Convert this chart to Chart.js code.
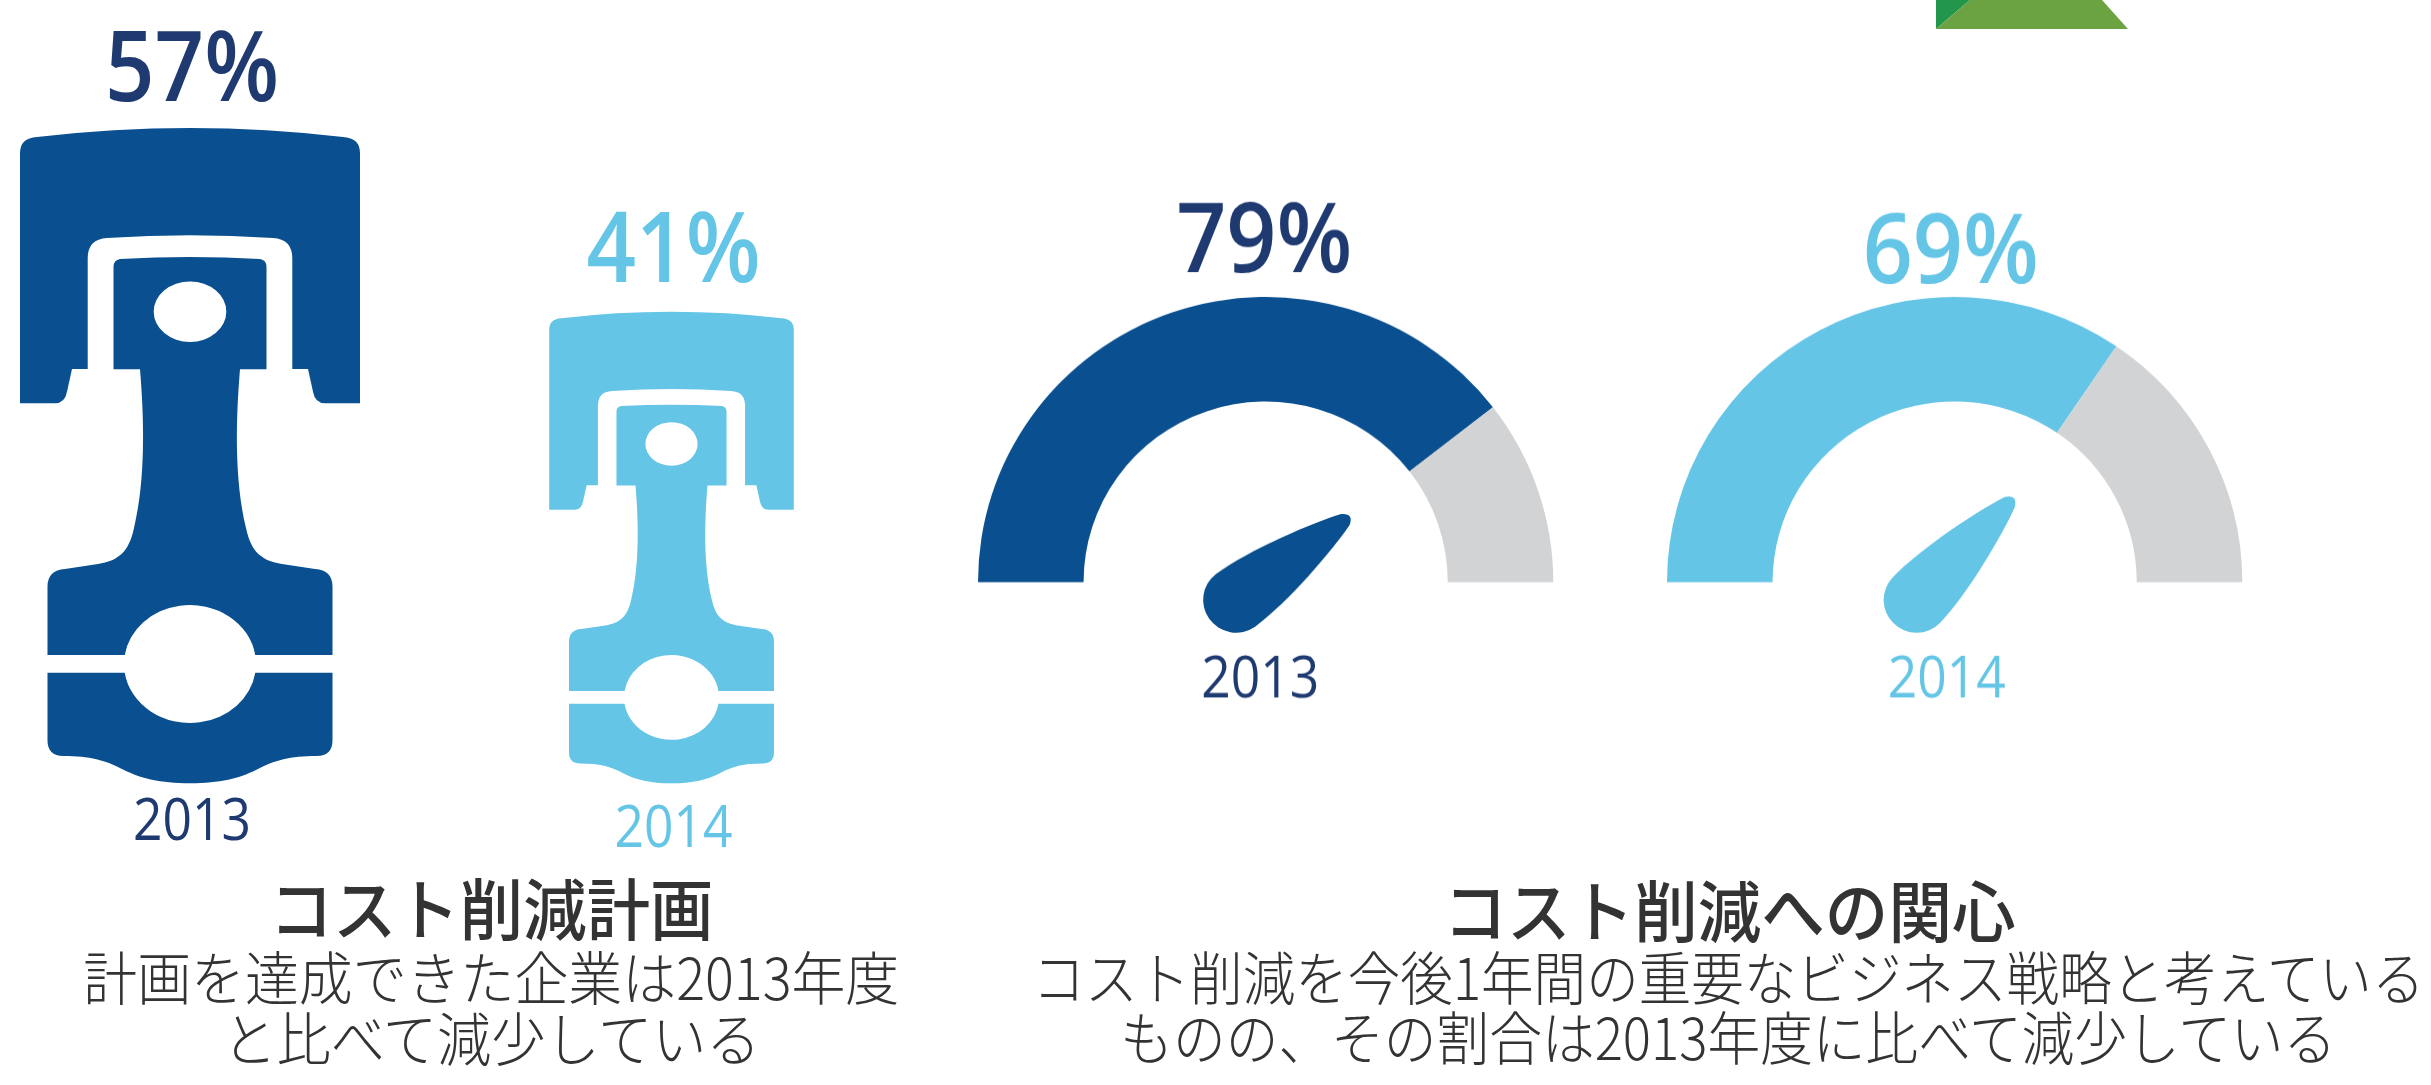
<!DOCTYPE html>
<html lang="ja">
<head>
<meta charset="utf-8">
<title>コスト削減</title>
<script src="https://cdn.jsdelivr.net/npm/chart.js@4"></script>
<style>
html,body{margin:0;padding:0;background:#fff;width:2431px;height:1085px;overflow:hidden}
canvas{position:absolute}
.gauge{transform:scaleY(.9913);transform-origin:0 0}
.cap{position:absolute;white-space:nowrap;color:#333;font-family:"Noto Sans CJK JP";line-height:1;transform-origin:center top}
svg{position:absolute;left:0;top:0}
</style>
</head>
<body>
<svg width="2431" height="40"><polygon points="1936,29 1970,0 1936,0" fill="#22964a"/><polygon points="1936,29 1970,0 2102,0 2128,29" fill="#6ba342"/></svg>
<canvas id="pistons" width="900" height="1085" style="left:0;top:0"></canvas>
<canvas id="gauge2013" class="gauge" width="640" height="560" style="left:950px;top:172.1px"></canvas>
<canvas id="gauge2014" class="gauge" width="640" height="560" style="left:1639px;top:172.1px"></canvas>
<script>
const pistonYears = ['2013', '2014'];
const pistonValues = [57, 41];
const gaugeYears = ['2013', '2014'];
const gaugeValues = [79, 69];
const gaugeRemainders = [21, 31];
const needleTilts = [36.6, 46.7];
const captionTitles = ['コスト削減計画', 'コスト削減への関心'];
const captionLines = [
  ['計画を達成できた企業は2013年度', 'と比べて減少している'],
  ['コスト削減を今後1年間の重要なビジネス戦略と考えている', 'ものの、その割合は2013年度に比べて減少している']
];

const NAVY = '#1f3a70', DARK = '#0a5090', LIGHT = '#64c5e6', GREY = '#d2d3d5';
const NUM = '"Open Sans"';

function fitText(ctx, text, x, baseline, font, width, color) {
  ctx.save();
  ctx.font = font;
  ctx.fillStyle = color;
  ctx.textAlign = 'center';
  ctx.textBaseline = 'alphabetic';
  const k = width / ctx.measureText(text).width;
  ctx.translate(x, baseline);
  ctx.scale(k, 1);
  ctx.fillText(text, 0, 0);
  ctx.restore();
}

/* Piston icon: a 655-unit-tall glyph, origin at top of the axis */
function pistonPath(ctx) {
  // crown
  ctx.beginPath();
  ctx.moveTo(-153, 9);
  ctx.quadraticCurveTo(0, -9, 153, 9);
  ctx.quadraticCurveTo(170, 10, 170, 25);
  ctx.lineTo(170, 275.3);
  ctx.lineTo(135, 275.3);
  ctx.quadraticCurveTo(125, 275, 123, 263.7);
  ctx.lineTo(118, 241);
  ctx.lineTo(102.3, 241);
  ctx.lineTo(102.3, 130);
  ctx.quadraticCurveTo(102, 111, 83, 110);
  ctx.quadraticCurveTo(0, 104.6, -83, 110);
  ctx.quadraticCurveTo(-102, 111, -102.3, 130);
  ctx.lineTo(-102.3, 241);
  ctx.lineTo(-118, 241);
  ctx.lineTo(-123, 263.7);
  ctx.quadraticCurveTo(-125, 275, -135, 275.3);
  ctx.lineTo(-170, 275.3);
  ctx.lineTo(-170, 25);
  ctx.quadraticCurveTo(-170, 10, -153, 9);
  ctx.closePath();
  ctx.fill();
  // rod with upper half of big end and small-end hole
  const a = Math.asin(9 / 59), ex = 66, ey = 59, ecy = 536;
  ctx.beginPath();
  ctx.moveTo(-70, 131);
  ctx.quadraticCurveTo(0, 127, 70, 131);
  ctx.quadraticCurveTo(76.5, 132, 76.5, 139);
  ctx.lineTo(76.5, 241.3);
  ctx.lineTo(50, 241.3);
  ctx.bezierCurveTo(46, 290, 44, 350, 56, 400);
  ctx.bezierCurveTo(61, 424, 72, 433, 92, 436);
  ctx.lineTo(125, 441);
  ctx.quadraticCurveTo(142.5, 442, 142.5, 458.7);
  ctx.lineTo(142.5, 527);
  ctx.ellipse(0, ecy, ex, ey, 0, -a, Math.PI + a, true);
  ctx.lineTo(-142.5, 527);
  ctx.lineTo(-142.5, 458.7);
  ctx.quadraticCurveTo(-142.5, 442, -125, 441);
  ctx.lineTo(-92, 436);
  ctx.bezierCurveTo(-72, 433, -61, 424, -56, 400);
  ctx.bezierCurveTo(-44, 350, -46, 290, -50, 241.3);
  ctx.lineTo(-76.5, 241.3);
  ctx.lineTo(-76.5, 139);
  ctx.quadraticCurveTo(-76.5, 132, -70, 131);
  ctx.closePath();
  ctx.moveTo(36.3, 183.7);
  ctx.ellipse(0, 183.7, 36.3, 30.3, 0, 0, Math.PI * 2);
  ctx.closePath();
  ctx.fill('evenodd');
  // lower cap
  const b = Math.asin(8.7 / 59);
  ctx.beginPath();
  ctx.moveTo(-142.5, 544.7);
  ctx.ellipse(0, ecy, ex, ey, 0, Math.PI - b, b, true);
  ctx.lineTo(142.5, 544.7);
  ctx.lineTo(142.5, 612);
  ctx.quadraticCurveTo(142.5, 628, 126.7, 628);
  ctx.bezierCurveTo(100, 628, 85, 632, 66, 642);
  ctx.bezierCurveTo(50, 650, 30, 655.3, 0, 655.3);
  ctx.bezierCurveTo(-30, 655.3, -50, 650, -66, 642);
  ctx.bezierCurveTo(-85, 632, -100, 628, -126.7, 628);
  ctx.quadraticCurveTo(-142.5, 628, -142.5, 612);
  ctx.closePath();
  ctx.fill();
}

const pistonColors = [DARK, LIGHT];
const pistonTextColors = [NAVY, LIGHT];
const pistonYearOffsets = [57, 64];
const pistonPctOffsets = [26.5, 29.5];
const pistonPlugin = {
  id: 'pistonIcons',
  afterDatasetsDraw(chart) {
    const ctx = chart.ctx;
    chart.getDatasetMeta(0).data.forEach((bar, i) => {
      const s = (bar.base - bar.y) / 655;
      ctx.save();
      ctx.translate(bar.x, bar.y);
      ctx.scale(s, s);
      ctx.fillStyle = pistonColors[i];
      pistonPath(ctx);
      ctx.restore();
      fitText(ctx, pistonValues[i] + '%', bar.x + 2, bar.y - pistonPctOffsets[i], '600 97px ' + NUM, 174, pistonTextColors[i]);
      fitText(ctx, pistonYears[i], bar.x + 2, bar.base + pistonYearOffsets[i], '400 59px ' + NUM, 118, pistonTextColors[i]);
    });
  }
};
new Chart(document.getElementById('pistons'), {
  type: 'bar',
  data: {
    labels: pistonYears,
    datasets: [{ data: pistonValues, backgroundColor: 'rgba(0,0,0,0)', borderWidth: 0 }]
  },
  options: {
    responsive: false, animation: false,
    layout: { padding: { left: 190, right: 228.5, top: 93.5, bottom: 302 } },
    plugins: { legend: { display: false }, tooltip: { enabled: false } },
    scales: {
      x: { display: false, offset: false },
      y: { display: false, min: 0, max: 60 }
    }
  },
  plugins: [pistonPlugin]
});

function needlePath(ctx) {
  const r = 33, t = 1.6, px = r * Math.cos(t), py = r * Math.sin(t);
  ctx.beginPath();
  ctx.moveTo(px, -py);
  ctx.bezierCurveTo(40, -33, 108, -17, 136, -7);
  ctx.quadraticCurveTo(147, 0, 136, 7);
  ctx.bezierCurveTo(108, 17, 40, 33, px, py);
  ctx.arc(0, 0, r, t, -t);
  ctx.closePath();
  ctx.fill();
}

const gaugeSpecs = [
  { id: 'gauge2013', color: DARK, text: NAVY, pivot: [-29.5, 18], pct: [-1.5, -312.7], year: [-5.5, 116] },
  { id: 'gauge2014', color: LIGHT, text: LIGHT, pivot: [-38, 18], pct: [-4, -301.8], year: [-8, 116] }
];
gaugeSpecs.forEach((spec, i) => {
  const gaugePlugin = {
    id: 'gaugeDecor' + i,
    afterDatasetsDraw(chart) {
      const ctx = chart.ctx;
      const arc = chart.getDatasetMeta(0).data[0];
      ctx.save();
      ctx.translate(arc.x + spec.pivot[0], arc.y + spec.pivot[1]);
      ctx.rotate(-needleTilts[i] * Math.PI / 180);
      ctx.fillStyle = spec.color;
      needlePath(ctx);
      ctx.restore();
      fitText(ctx, gaugeValues[i] + '%', arc.x + spec.pct[0], arc.y + spec.pct[1], '600 97px ' + NUM, 176, spec.text);
      fitText(ctx, gaugeYears[i], arc.x + spec.year[0], arc.y + spec.year[1], '500 59px ' + NUM, 118, spec.text);
    }
  };
  new Chart(document.getElementById(spec.id), {
    type: 'doughnut',
    data: {
      labels: ['達成', '残り'],
      datasets: [{ data: [gaugeValues[i], gaugeRemainders[i]], backgroundColor: [spec.color, GREY], borderWidth: 0 }]
    },
    options: {
      responsive: false, animation: false,
      rotation: -90, circumference: 180, cutout: '63.3%',
      layout: { padding: { left: 28, right: 36.7, top: 126, bottom: 146.35 } },
      plugins: { legend: { display: false }, tooltip: { enabled: false } }
    },
    plugins: [gaugePlugin]
  });
});

/* captions */
const captionLayout = [
  { title: [491, 872, 444], lines: [[491, 947, 816], [491.5, 1007.5, 538]] },
  { title: [1729, 874, 572], lines: [[1728, 947, 1392], [1728, 1006.5, 1216]] }
];
captionLayout.forEach((c, i) => {
  const add = (text, x, top, width, size, weight) => {
    const d = document.createElement('div');
    d.className = 'cap';
    d.textContent = text;
    d.style.fontSize = size + 'px';
    d.style.fontWeight = weight;
    d.style.top = top + 'px';
    document.body.appendChild(d);
    const w = d.getBoundingClientRect().width;
    d.style.left = (x - w / 2) + 'px';
    d.style.transform = 'scaleX(' + (width / w) + ')';
  };
  add(captionTitles[i], c.title[0], c.title[1], c.title[2], 67, 500);
  captionLines[i].forEach((t, j) => add(t, c.lines[j][0], c.lines[j][1], c.lines[j][2], 57.5, 300));
});
</script>
</body>
</html>
